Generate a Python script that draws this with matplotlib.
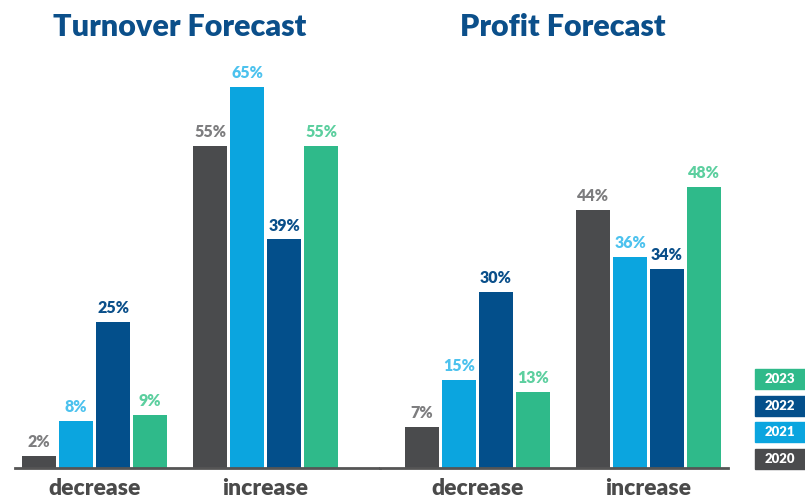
import matplotlib.pyplot as plt
from matplotlib.patches import Rectangle

years = ["2020", "2021", "2022", "2023"]
categories = ["decrease", "increase"]
turnover = {"2020": [2, 55], "2021": [8, 65], "2022": [25, 39], "2023": [9, 55]}
profit = {"2020": [7, 44], "2021": [15, 36], "2022": [30, 34], "2023": [13, 48]}

bar_colors = {"2020": "#4a4b4d", "2021": "#0ba5df", "2022": "#034f8b", "2023": "#2fba8a"}
label_colors = {"2020": "#7d7d7f", "2021": "#4cc2ee", "2022": "#0a4f8a", "2023": "#5ccf9f"}
title_color = "#0b4f8a"
font = "Lato"

W, H = 805, 497
fig = plt.figure(figsize=(W / 100, H / 100), dpi=100)

pitch, width = 37 / 171, 34 / 171
ytop = 468 / 5.86


def panel(x0, x1, xmin, data, title, title_x):
    ax = fig.add_axes([x0 / W, (H - 468) / H, (x1 - x0) / W, 468 / H])
    for i, yr in enumerate(years):
        off = (i - 1.5) * pitch
        for j, v in enumerate(data[yr]):
            ax.bar(j + off, v, width, color=bar_colors[yr])
            ax.text(j + off, v + 1.0, f"{v}%", ha="center", va="bottom",
                    fontsize=11.5, fontweight="heavy", color=label_colors[yr],
                    family=font)
    ax.set_xlim(xmin, xmin + (x1 - x0) / 171)
    ax.set_ylim(0, ytop)
    for s in ["top", "right", "left"]:
        ax.spines[s].set_visible(False)
    ax.spines["bottom"].set_color("#555555")
    ax.spines["bottom"].set_linewidth(2)
    ax.set_yticks([])
    ax.set_xticks(range(len(categories)))
    ax.set_xticklabels(categories, fontsize=16.5, fontweight="heavy",
                       color="#4a4a4a", family=font)
    ax.tick_params(axis="x", length=0, pad=7)
    fig.text(title_x / W, 1 - 27 / H, title, ha="center", va="center",
             fontsize=22, fontweight="heavy", color=title_color, family=font)
    return ax


panel(15, 380, -79.5 / 171, turnover, "Turnover Forecast", 180)
panel(380, 728, -97.5 / 171, profit, "Profit Forecast", 563)

# legend boxes, stacked from 2020 at the bottom
for k, yr in enumerate(years):
    y = 449 - k * 26.7
    fig.patches.append(Rectangle(((755) / W, 1 - (y + 20) / H), 50 / W, 20 / H,
                                 transform=fig.transFigure, color=bar_colors[yr]))
    fig.text(780 / W, 1 - (y + 10) / H, yr, ha="center", va="center",
             fontsize=9.5, fontweight="heavy", color="white", family=font)

fig.savefig("out.png", dpi=100)
